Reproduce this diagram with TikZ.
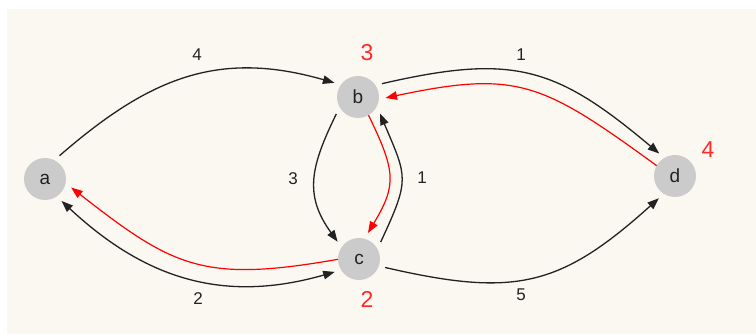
\documentclass[tikz,border=0pt]{standalone}
\usepackage{fontspec}
\setmainfont{Liberation Sans}
\usetikzlibrary{arrows.meta}
\definecolor{bgc}{HTML}{FAF8F1}
\definecolor{nodegray}{HTML}{CBCBCB}
\definecolor{hl}{HTML}{FF2A2A}
\definecolor{ink}{HTML}{222222}
\begin{document}
\begin{tikzpicture}[x=1pt,y=1pt,
  vtx/.style={circle,fill=nodegray,minimum size=42pt,inner sep=0pt,outer sep=6.5pt,font=\fontsize{19}{19}\selectfont,text=ink},
  tip/.style={-{Triangle[length=11.5pt,width=8.5pt]}},
  edge/.style={line width=1.3pt,draw=ink,tip},
  redge/.style={line width=1.2pt,draw=red,-{Triangle[length=11.5pt,width=8.5pt,fill=red]},shorten <=-6.5pt},
  wlab/.style={font=\fontsize{17}{17}\selectfont,text=ink},
  dlab/.style={font=\fontsize{23}{23}\selectfont,text=hl}]
\useasboundingbox (0,0) rectangle (756,334);
\fill[bgc] (7,0) rectangle (756,325);
\node[vtx] (a) at (45,155) {a};
\node[vtx] (b) at (358,237) {b};
\node[vtx] (c) at (359,75) {c};
\node[vtx] (d) at (675,158) {d};
% black edges
\draw[edge] (a.58) to[out=41,in=164,distance=120pt] (b.149);
\draw[edge] (b.29) to[out=13,in=140,distance=135pt] (d.125);
\draw[edge] (b.218) to[out=244,in=126,distance=58pt] (c.141);
\draw[edge] (c.38) to[out=65,in=-67,distance=70pt] (b.-37);
\draw[edge,{Triangle[length=11.5pt,width=8.5pt]}-{Triangle[length=11.5pt,width=8.5pt]}] (a.-53) to[out=-43,in=196,distance=115pt] (c.208);
\draw[edge] (c.-18) to[out=-13,in=222,distance=133pt] (d.234);
% red edges
\draw[redge] (d.149) to[out=144,in=12,distance=135pt] (b.-2);
\draw[redge] (b.-61) to[out=-64,in=59,distance=56pt] (c.71);
\draw[redge] (c.183) to[out=190,in=-38,distance=130pt] (a.-18);
% weight labels
\node[wlab] (w1) at (197,279) {4};
\node[wlab] (w2) at (521,279) {1};
\node[wlab] (w3) at (293,155) {3};
\node[wlab] (w4) at (422,156) {1};
\node[wlab] (w5) at (198,35) {2};
\node[wlab] (w6) at (521,39) {5};
% distance labels
\node[dlab] (db) at (367,281) {3};
\node[dlab] (dc) at (367,35) {2};
\node[dlab] (dd) at (708,184) {4};
\end{tikzpicture}
\end{document}
